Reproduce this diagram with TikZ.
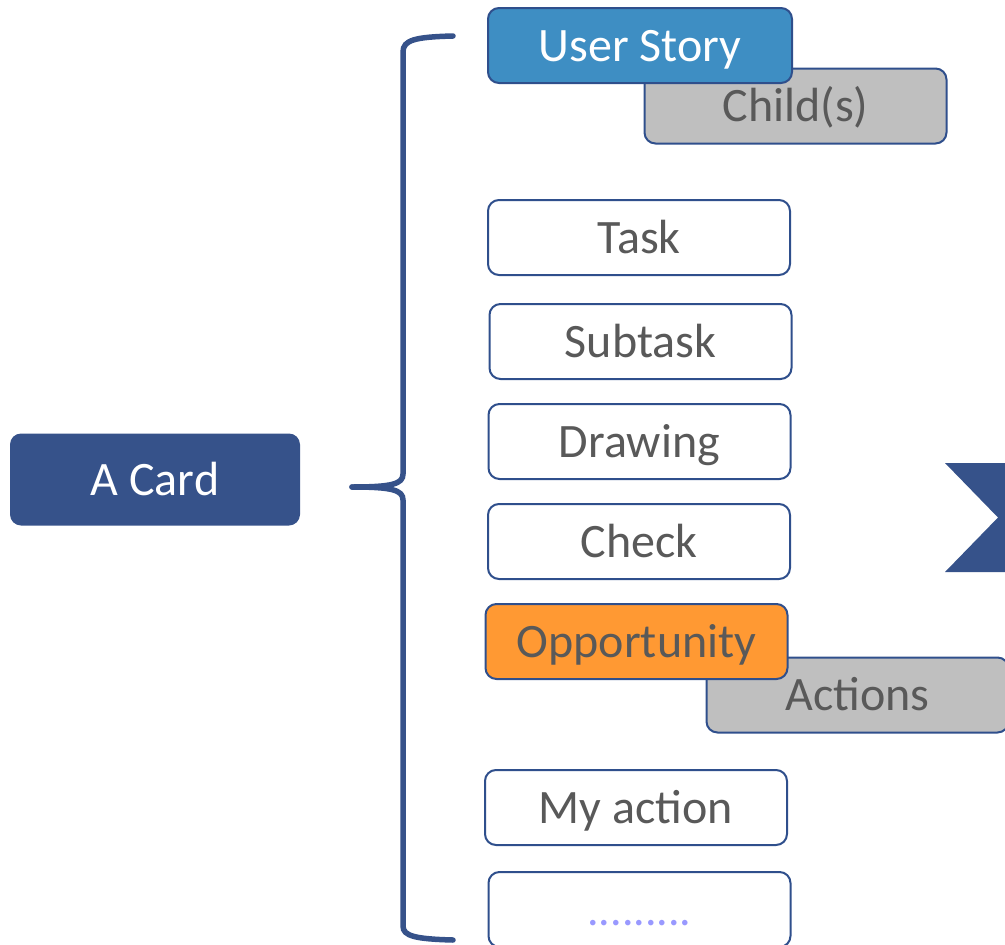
\documentclass[tikz,border=0pt]{standalone}
\usepackage{fontspec}
\setmainfont{Carlito}
\definecolor{darkblue}{HTML}{36528A}
\definecolor{edgeblue}{HTML}{2F4F8C}
\definecolor{storyblue}{HTML}{3E8EC3}
\definecolor{opporange}{HTML}{FF9933}
\definecolor{boxgray}{HTML}{BFBFBF}
\definecolor{textgray}{HTML}{595959}
\definecolor{dotblue}{HTML}{9999FF}
\begin{document}
\begin{tikzpicture}[x=1pt,y=-1pt,
  cardbox/.style={draw=edgeblue, line width=2pt, rounded corners=11pt, fill=white,
    minimum width=302pt, minimum height=75pt, inner sep=0pt,
    text height=31pt, text depth=0pt, text=textgray,
    font=\fontsize{48}{52}\selectfont},
  bigcard/.style={fill=darkblue, rounded corners=11pt, minimum width=290pt, minimum height=92pt,
    inner sep=0pt, text height=31pt, text depth=0pt, text=white,
    font=\fontsize{48}{52}\selectfont},
  bracestyle/.style={draw=darkblue, line width=5.5pt, line cap=round}
]
\useasboundingbox (0,0) rectangle (1005,945);
\clip (0,0) rectangle (1005,945);

\node[bigcard] (card) at (155,479.5) {A Card};

\draw[bracestyle] (453,36) .. controls (415,37) and (403,40) .. (403,52)
  -- (403,474) .. controls (403,484) and (392,487) .. (352,487);
\draw[bracestyle] (352,487) .. controls (392,487) and (403,490) .. (403,500)
  -- (403,926) .. controls (403,936) and (415,939) .. (453,940);

\node[cardbox, fill=boxgray] (child) at (795.5,106) {Child(s)};
\node[cardbox, fill=storyblue, text=white, minimum width=304pt] (story) at (640,45.5) {User Story};

\node[cardbox] (task) at (639,237.5) {Task};
\node[cardbox] (subtask) at (640.5,341.5) {Subtask};
\node[cardbox] (drawing) at (639.5,441.5) {Drawing};
\node[cardbox] (check) at (639,541.5) {Check};

\node[cardbox, fill=boxgray] (actions) at (857.5,695) {Actions};
\node[cardbox, fill=opporange] (opp) at (636.5,641.5) {Opportunity};

\node[cardbox] (myaction) at (636,807.5) {My action};
\node[cardbox, text=dotblue, font=\fontsize{46}{50}\selectfont] (more) at (639.5,909.5) {.........};

\fill[darkblue] (945,463) -- (1010,463) -- (1010,572) -- (945,572) -- (998,517.5) -- cycle;
\end{tikzpicture}
\end{document}
